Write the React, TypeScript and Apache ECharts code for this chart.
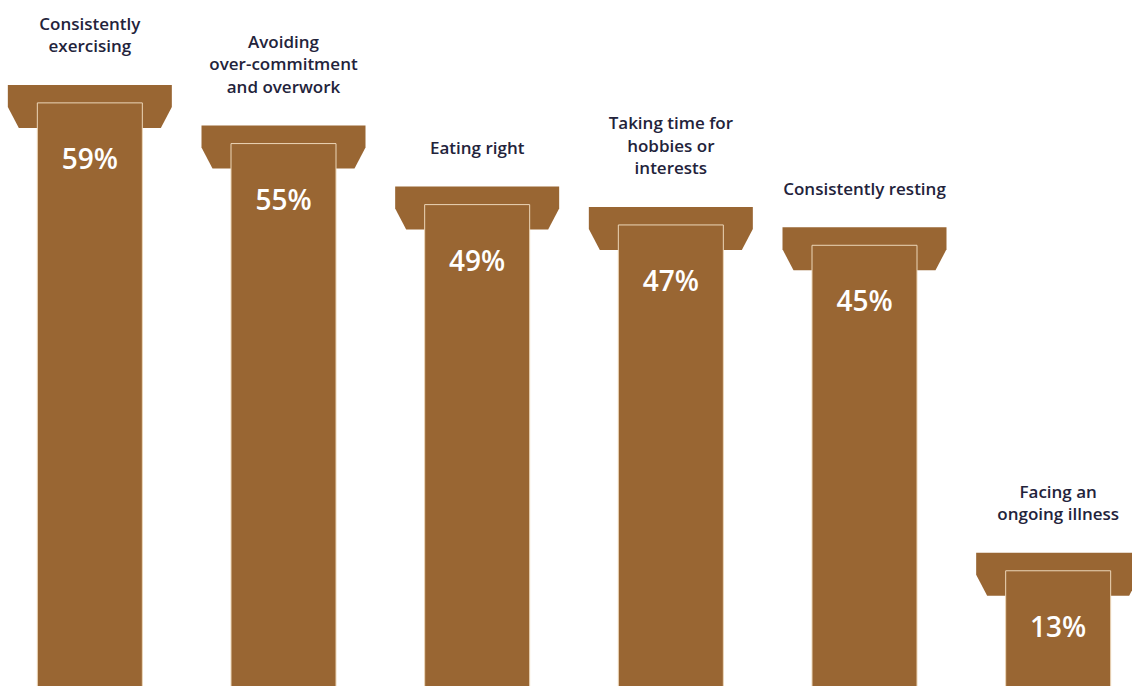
import React, { useEffect, useRef } from "react";
import * as echarts from "echarts";

const categories = [
  "Consistently\nexercising",
  "Avoiding\nover-commitment\nand overwork",
  "Eating right",
  "Taking time for\nhobbies or\ninterests",
  "Consistently resting",
  "Facing an\nongoing illness",
];
const values = [59, 55, 49, 47, 45, 13];

const BROWN = "#996633";
const OUTLINE = "#ecd6b8";
const TEXT = "#23233b";
const FONT = "'Open Sans', 'Noto Sans', sans-serif";

// The chart canvas is larger than the viewport so that the outer pillars are cut off as in the reference.
const OFF_LEFT = 7;
const OFF_TOP = 9;
const CW = 1162;
const CH = 712;

export default function App() {
  const ref = useRef<HTMLDivElement>(null);
  useEffect(() => {
    if (!ref.current) return;
    const chart = echarts.init(ref.current, undefined, { renderer: "svg" });
    chart.setOption({
      animation: false,
      backgroundColor: "#ffffff",
      grid: { left: 0, right: 0, top: 0, bottom: 0 },
      xAxis: { type: "category", data: categories, show: false },
      yAxis: { type: "value", min: 0, max: 70, show: false },
      series: [
        {
          type: "custom",
          data: values.map((v, i) => [i, v]),
          renderItem: (params: any, api: any) => {
            const idx = api.value(0);
            const v = api.value(1);
            const [cx, top] = api.coord([idx, v]);
            const bottom = api.coord([idx, 0])[1];
            const shaftW = 105;
            const capHalf = 82;
            const capInner = 71;
            const capTop = top - 18;
            return {
              type: "group",
              children: [
                {
                  type: "polygon",
                  shape: {
                    points: [
                      [cx - capHalf, capTop],
                      [cx + capHalf, capTop],
                      [cx + capHalf, top + 4],
                      [cx + capInner, top + 25],
                      [cx - capInner, top + 25],
                      [cx - capHalf, top + 4],
                    ],
                  },
                  style: { fill: BROWN },
                },
                {
                  type: "rect",
                  shape: { x: cx - shaftW / 2, y: top, width: shaftW, height: bottom - top },
                  style: { fill: BROWN, stroke: OUTLINE, lineWidth: 1 },
                },
                {
                  type: "text",
                  x: cx,
                  y: top + 55,
                  style: {
                    text: v + "%",
                    fill: "#ffffff",
                    font: "600 28px " + FONT,
                    align: "center",
                    verticalAlign: "middle",
                  },
                },
                {
                  type: "text",
                  x: cx,
                  y: capTop - 28,
                  style: {
                    text: categories[idx],
                    fill: TEXT,
                    font: "600 17px " + FONT,
                    lineHeight: 22.5,
                    align: "center",
                    verticalAlign: "bottom",
                  },
                },
              ],
            };
          },
        },
      ],
    });
    return () => chart.dispose();
  }, []);
  return (
    <div
      style={{
        position: "absolute",
        left: 0,
        top: 0,
        width: 1132,
        height: 686,
        overflow: "hidden",
        background: "#fff",
      }}
    >
      <div
        ref={ref}
        style={{ position: "absolute", left: -OFF_LEFT, top: -OFF_TOP, width: CW, height: CH }}
      />
    </div>
  );
}
